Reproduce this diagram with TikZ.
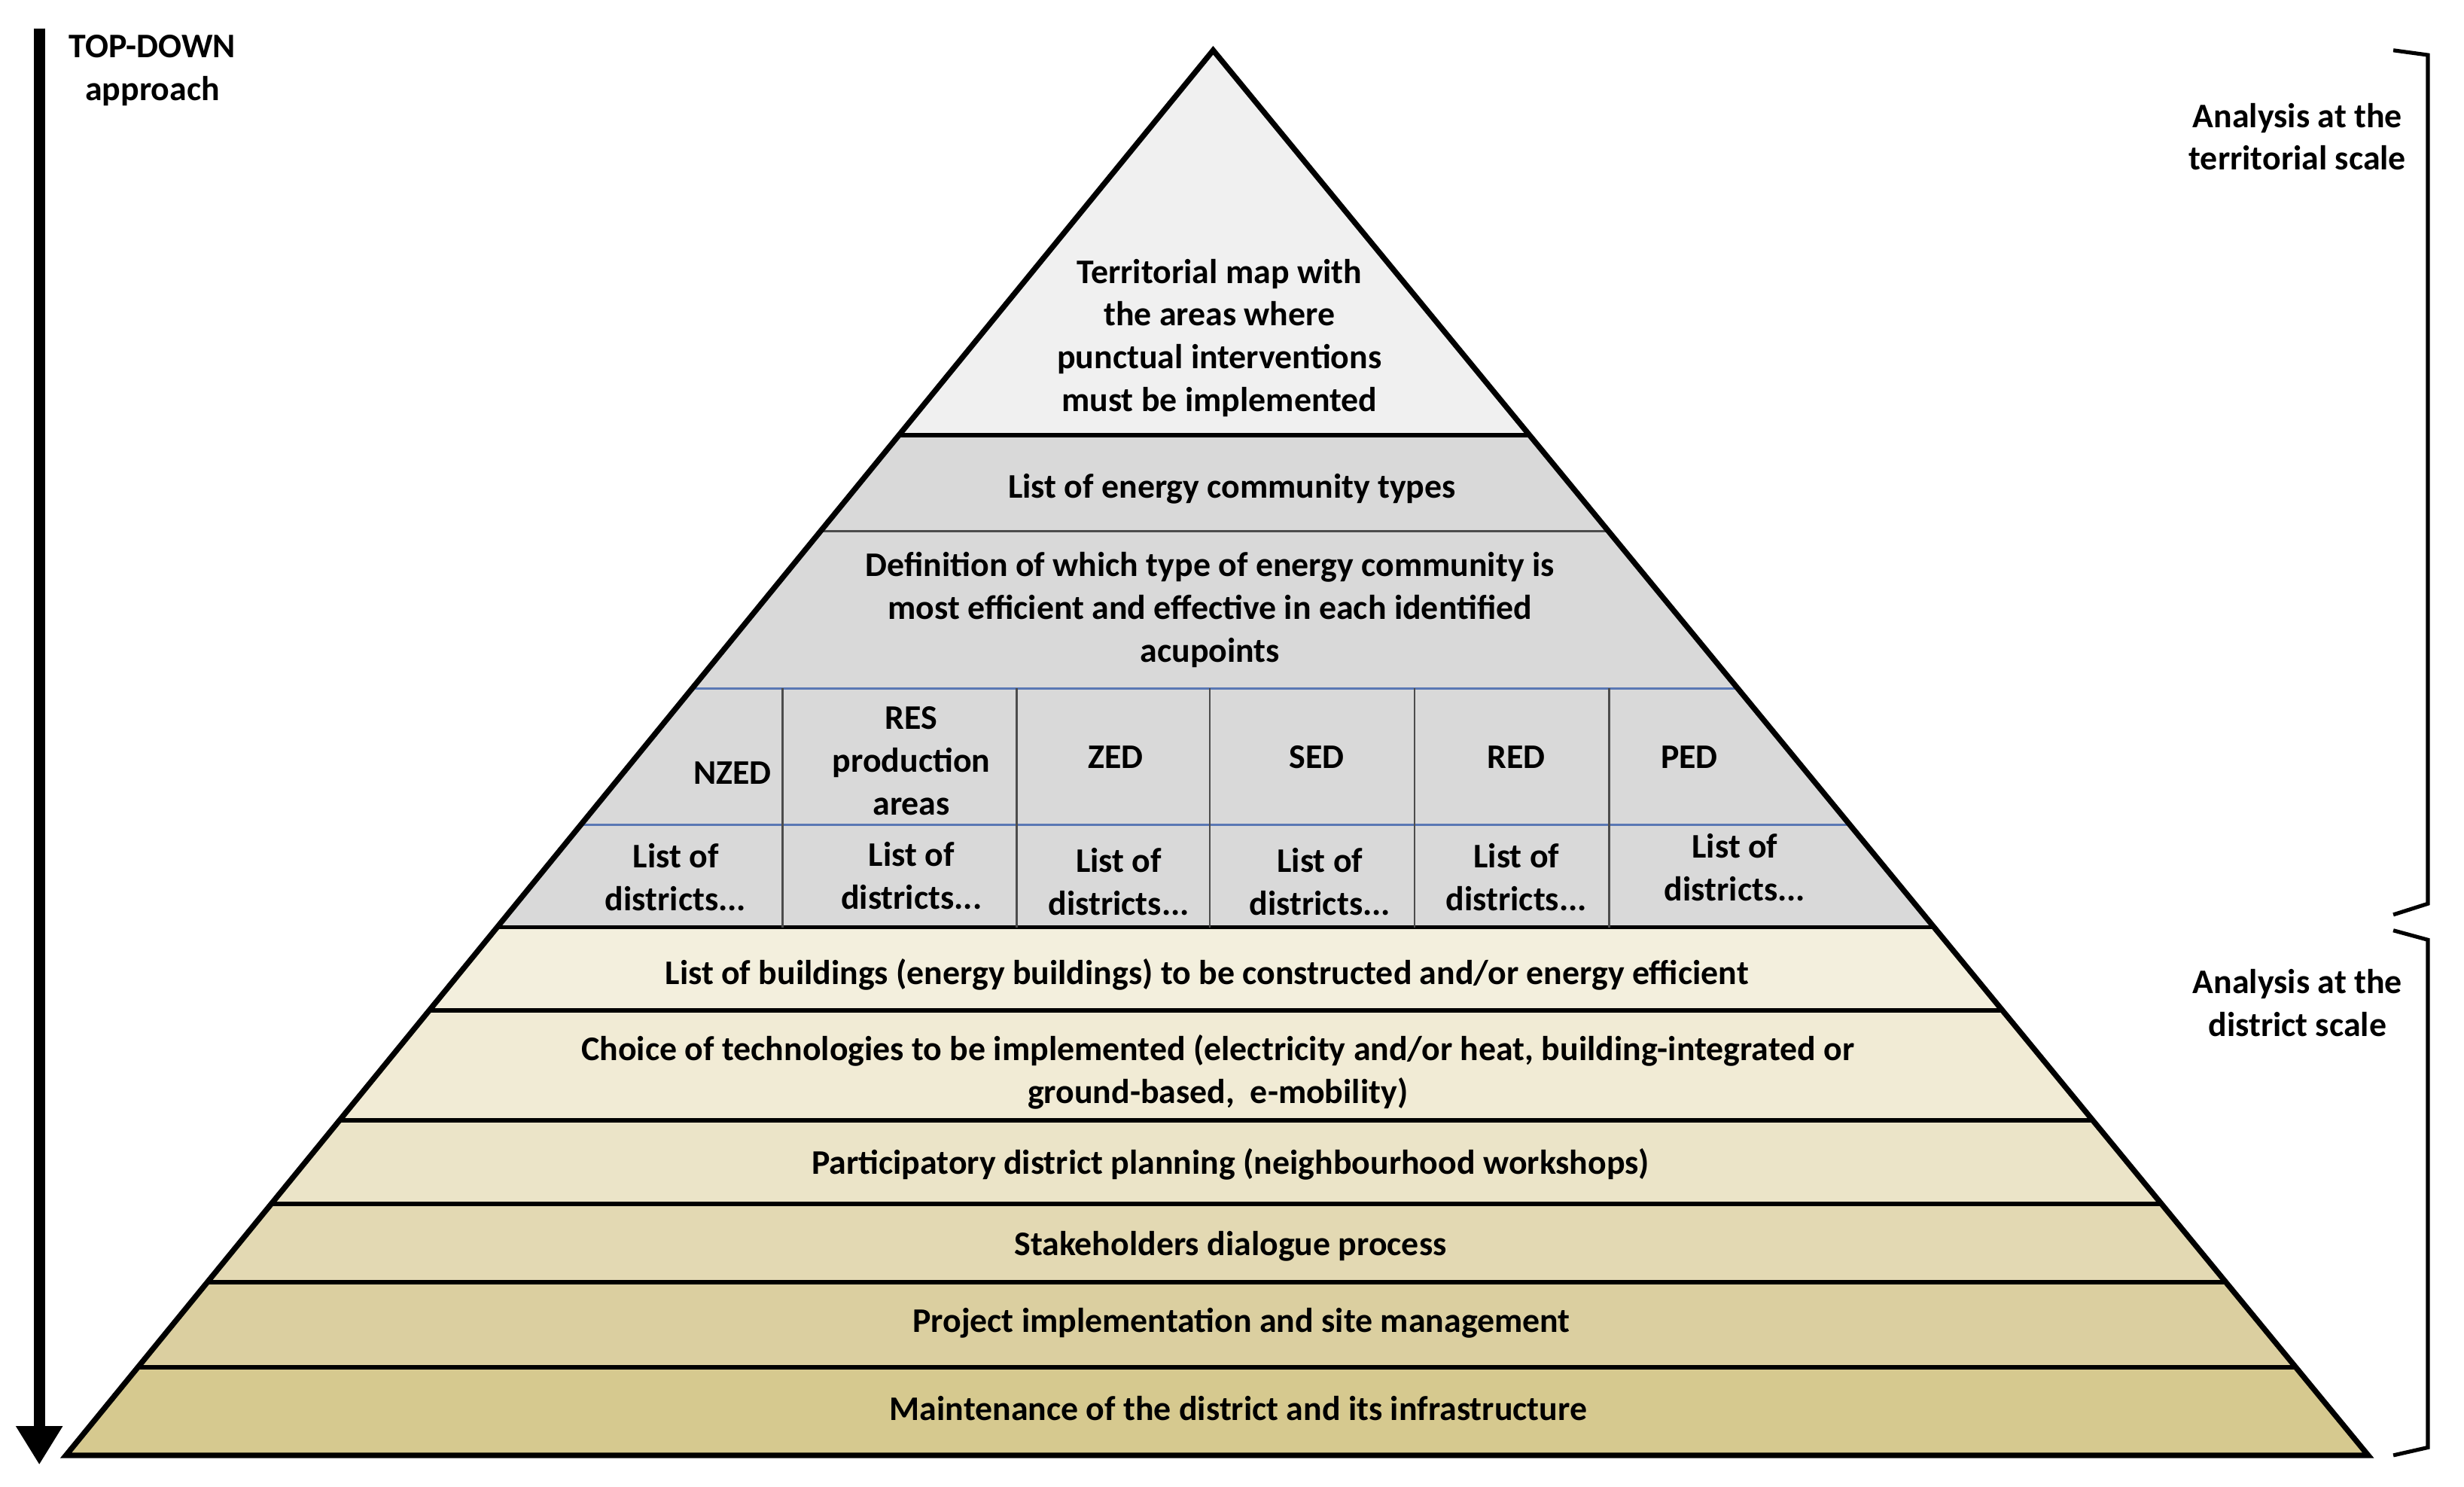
\documentclass[tikz,border=0pt]{standalone}
\usepackage{fontspec}
\setmainfont{Carlito}
\usetikzlibrary{arrows.meta}
\begin{document}
\begin{tikzpicture}[x=0.02cm,y=-0.02cm,
  t/.style={font=\bfseries\fontsize{12.5}{15.5}\selectfont,align=center,inner sep=0pt},
  sep/.style={line width=1.6pt},
  thin/.style={line width=0.6pt,draw=black!70}]
\useasboundingbox (0,0) rectangle (1568,946);
\coordinate (A) at (772,32);
\coordinate (L) at (42,926);
\coordinate (R) at (1507,926);
\begin{scope}
\clip (A) -- (L) -- (R) -- cycle;
\fill[gray!12] (0,0) rectangle (1568,277);
\fill[gray!30] (0,277) rectangle (1568,590);
\fill[fill={rgb,255:red,243;green,239;blue,221}] (0,590) rectangle (1568,643);
\fill[fill={rgb,255:red,241;green,235;blue,213}] (0,643) rectangle (1568,713);
\fill[fill={rgb,255:red,235;green,228;blue,200}] (0,713) rectangle (1568,766);
\fill[fill={rgb,255:red,227;green,217;blue,179}] (0,766) rectangle (1568,816);
\fill[fill={rgb,255:red,219;green,207;blue,160}] (0,816) rectangle (1568,870);
\fill[fill={rgb,255:red,214;green,201;blue,143}] (0,870) rectangle (1568,926);
\foreach \y in {277,590,643,713,766,816,870} \draw[sep] (0,\y) -- (1568,\y);
\draw[thin] (0,338) -- (1568,338);
\foreach \y in {438,525} \draw[line width=0.8pt,draw={rgb,255:red,90;green,120;blue,180}] (0,\y) -- (1568,\y);
\foreach \x in {498,647,770,900,1024} \draw[thin] (\x,438) -- (\x,590);
\end{scope}
\draw[line width=2pt,line join=miter] (A) -- (L) -- (R) -- cycle;
\node[t] (n1) at (776,215) {Territorial map with\\the areas where\\punctual interventions\\must be implemented};
\node[t] (n2) at (784,311) {List of energy community types};
\node[t] (n3) at (770,388) {Definition of which type of energy community is\\most efficient and effective in each identified\\acupoints};
\node[t] (h1) at (466,492) {NZED};
\node[t] (h2) at (580,484) {RES\\production\\areas};
\node[t] (h3) at (710,482) {ZED};
\node[t] (h4) at (838,482) {SED};
\node[t] (h5) at (965,482) {RED};
\node[t] (h6) at (1075,482) {PED};
\node[t] (d1) at (430,558) {List of\\districts...};
\node[t] (d2) at (580,557) {List of\\districts...};
\node[t] (d3) at (712,561) {List of\\districts...};
\node[t] (d4) at (840,561) {List of\\districts...};
\node[t] (d5) at (965,558) {List of\\districts...};
\node[t] (d6) at (1104,552) {List of\\districts...};
\node[t] (b1) at (768,620) {List of buildings (energy buildings) to be constructed and/or energy efficient};
\node[t] (b2) at (775,682) {Choice of technologies to be implemented (electricity and/or heat, building-integrated or\\ground-based,\ \ e-mobility)};
\node[t] (b3) at (783,741) {Participatory district planning (neighbourhood workshops)};
\node[t] (b4) at (783,793) {Stakeholders dialogue process};
\node[t] (b5) at (790,842) {Project implementation and site management};
\node[t] (b6) at (788,896) {Maintenance of the district and its infrastructure};
\coordinate (a1) at (25,18);
\coordinate (a2) at (25,932);
\draw[line width=4pt,-{Triangle[length=14pt,width=16pt]}] (a1) -- (a2);
\node[t] (td) at (97,45) {TOP-DOWN\\approach};
\draw[line width=1.4pt] (1523,32) -- (1545,35) -- (1545,575) -- (1523,582);
\draw[line width=1.4pt] (1523,592) -- (1545,598) -- (1545,921) -- (1523,926);
\node[t] (s1) at (1462,87) {Analysis at the\\territorial scale};
\node[t] (s2) at (1462,638) {Analysis at the\\district scale};
\end{tikzpicture}
\end{document}
